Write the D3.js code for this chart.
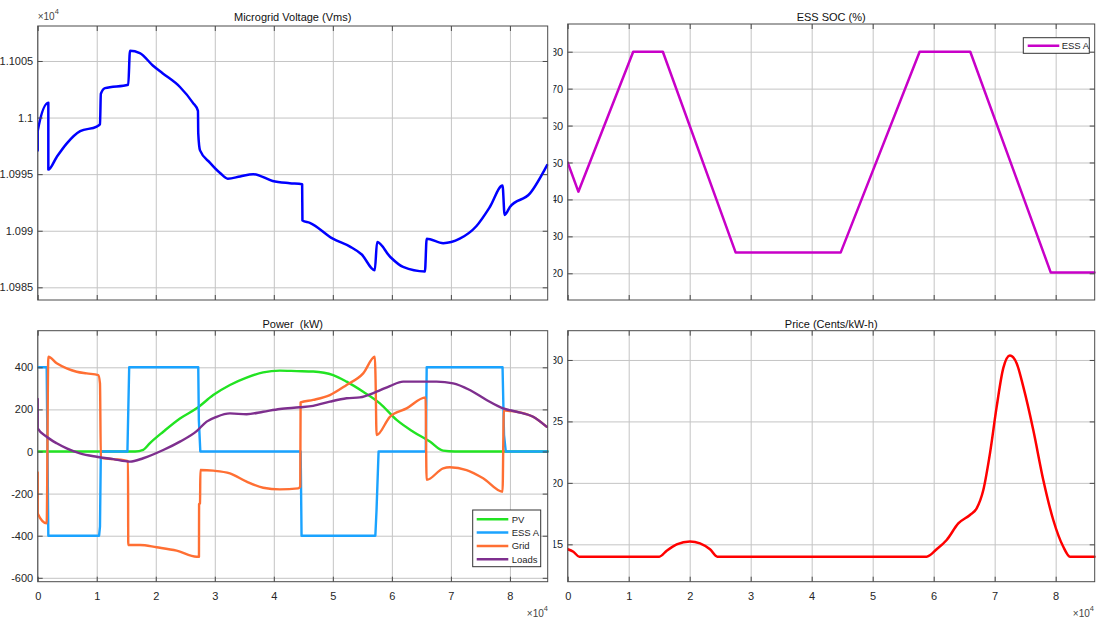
<!DOCTYPE html>
<html><head><meta charset="utf-8">
<script src="https://cdn.jsdelivr.net/npm/d3@7"></script>
<style>
html,body{margin:0;padding:0;background:#fff;}
svg{display:block;font-family:"Liberation Sans",Arial,Helvetica,sans-serif;}
</style></head><body>
<svg id="chart" width="1097" height="619"></svg>
<script>
// ---------------- data (time in seconds) ----------------
const voltageT = [0,0,1800,1800,3200,4900,7200,10000,10550,10700,11400,15340,15630,17300,19500,21200,24100,26300,27150,27200,27500,29200,30900,32200,34300,36500,39800,42700,44800,44850,46100,50000,52900,54900,57100,57500,59700,61900,65600,65900,68700,71500,74300,76600,78750,79100,80000,83400,86300];
const voltageV = [10997.1,10998.8,11001.3,10995.4,10996.5,10997.7,10998.8,10999.2,10999.4,11002.1,11002.6,11002.9,11005.9,11005.7,11004.6,11003.9,11002.7,11001.3,11000.6,10998.6,10997.1,10996.0,10995.1,10994.6,10994.8,10995.0,10994.4,10994.2,10994.1,10990.9,10990.7,10989.3,10988.6,10987.9,10986.5,10989.0,10987.7,10986.8,10986.4,10989.3,10988.9,10989.3,10990.4,10992.1,10994.0,10991.4,10992.1,10993.3,10995.8];

const socT = [0,1750,10740,15600,27540,44750,57700,66000,79200,86400];
const socV = [50,42.1,80,80,25.6,25.6,80,80,20.2,20.2];

const pvT = [0,16500,17880,19020,21270,24100,26930,29740,32570,35390,38200,41030,43860,46670,50060,52330,55140,57970,60800,63610,66440,68690,70700,86400];
const pvV = [0,0,8,40,94,157,205,268,316,351,376,384,382,380,363,332,284,229,150,94,47,4,0,0];

const essT = [0,1520,1800,10400,10550,10700,15200,15500,27200,27300,27550,44550,44700,57200,57400,57750,65750,65900,78750,79000,79300,86400];
const essV = [400,400,-400,-400,-357,0,0,400,400,150,0,0,-400,-400,-280,0,0,400,400,78,0,0];

const gridT = [0,0,1520,1800,3220,4910,6600,8300,10260,10550,10700,12800,15300,15340,17330,20150,23540,26930,27320,27340,27500,27560,29740,32570,35390,38200,41030,44140,44480,44540,46670,49500,52330,55140,57120,57240,57410,59660,62490,65710,65880,68690,69820,72650,75460,78750,78970,79300,81120,83930,86200];
const gridV = [-100,-295,-341,450,419,395,379,371,363,324,-30,-36,-46,-444,-444,-455,-471,-500,-500,-250,-246,-88,-91,-104,-143,-172,-180,-175,-167,233,245,268,316,371,450,340,78,165,205,257,-135,-80,-75,-88,-127,-191,197,195,189,165,118];

const loadsT = [0,0,1520,3220,4910,7160,9990,12800,15630,17880,21270,24100,26930,28620,30310,32570,35390,38200,41030,44420,46670,49500,52330,54570,57410,59660,61910,64740,67570,70380,73210,76040,78850,81120,83930,86200];
const loadsV = [250,110,70,39,15,-9,-25,-36,-48,-32,7,47,97,142,165,181,177,189,202,210,217,237,253,257,284,311,332,332,332,324,292,245,205,189,165,118];

const priceT = [0,930,1900,15020,16230,17870,20050,21690,23330,24530,58850,60490,62130,64040,65950,67050,68140,69230,70330,71410,72500,73600,74690,76330,77970,79610,81250,82340,86400];
const priceV = [14.6,14.4,14.0,14.0,14.48,15.0,15.24,15.08,14.6,14.0,14.0,14.6,15.35,16.7,17.39,17.93,19.42,22.4,26.2,29.33,30.36,29.74,27.83,24.3,20.24,16.98,14.8,14.0,14.0];

const xTicks = [0,10000,20000,30000,40000,50000,60000,70000,80000];
const voltageTicks = [10985,10990,10995,11000,11005];
const socTicks = [20,30,40,50,60,70,80];
const powerTicks = [-600,-400,-200,0,200,400];
const priceTicks = [15,20,25,30];
const powerNames = ["PV","ESS A","Grid","Loads"];
const socNames = ["ESS A"];

// ---------------- drawing ----------------
const svg = d3.select("#chart");
const TEXT = "#262626", AXIS = "#4a4a4a", GRIDC = "#c4c4c4";
let clipId = 0;

function panel(cfg) {
  const x = d3.scaleLinear().domain([0, 86400]).range([cfg.x0, cfg.x1]);
  const y = d3.scaleLinear().domain(cfg.yDomain).range([cfg.y1, cfg.y0]);
  const g = svg.append("g");
  const w = cfg.x1 - cfg.x0, h = cfg.y1 - cfg.y0;

  // grid lines
  const gx = g.append("g").attr("transform", `translate(0,${cfg.y1})`)
    .call(d3.axisBottom(x).tickValues(xTicks).tickSize(-h).tickFormat(""));
  const gy = g.append("g").attr("transform", `translate(${cfg.x0},0)`)
    .call(d3.axisLeft(y).tickValues(cfg.yTicks).tickSize(-w).tickFormat(""));
  [gx, gy].forEach(s => { s.select(".domain").remove(); s.selectAll("line").attr("stroke", GRIDC).attr("stroke-width", 1); });

  // series
  const cid = "clip" + (clipId++);
  g.append("clipPath").attr("id", cid).append("rect")
    .attr("x", cfg.x0).attr("y", cfg.y0 - 2).attr("width", w + 1).attr("height", h + 4);
  const lg = g.append("g").attr("clip-path", `url(#${cid})`);
  cfg.series.forEach(s => {
    const line = d3.line().x(d => x(d[0])).y(d => y(d[1])).curve(s.curve || d3.curveLinear);
    lg.append("path").datum(d3.zip(s.t, s.v)).attr("d", line)
      .attr("fill", "none").attr("stroke", s.color).attr("stroke-width", s.width || 2.4)
      .attr("stroke-linejoin", "round").attr("stroke-linecap", "round");
  });

  // box
  g.append("rect").attr("x", cfg.x0).attr("y", cfg.y0).attr("width", w).attr("height", h)
    .attr("fill", "none").attr("stroke", AXIS).attr("stroke-width", 1);

  // inward ticks on top and right
  const tickStyle = s => { s.select(".domain").remove(); s.selectAll("line").attr("stroke", AXIS); s.selectAll("text").remove(); };
  g.append("g").attr("transform", `translate(0,${cfg.y0})`).call(d3.axisTop(x).tickValues(xTicks).tickSize(-5)).call(tickStyle);
  g.append("g").attr("transform", `translate(${cfg.x1},0)`).call(d3.axisRight(y).tickValues(cfg.yTicks).tickSize(-5)).call(tickStyle);

  // bottom axis
  const bx = g.append("g").attr("transform", `translate(0,${cfg.y1})`)
    .call(d3.axisBottom(x).tickValues(xTicks).tickSize(-5).tickPadding(11).tickFormat(d => String(d / 1e4)));
  bx.select(".domain").remove();
  bx.selectAll("line").attr("stroke", AXIS);
  bx.attr("font-family", null);
  if (cfg.xLabels) {
    bx.selectAll("text").attr("fill", TEXT).attr("font-size", 11);
  } else {
    bx.selectAll("text").remove();
  }

  // left axis (labels clipped by the neighbouring panel, as in the screenshot)
  const lcid = "lclip" + (clipId++);
  svg.append("clipPath").attr("id", lcid).append("rect")
    .attr("x", cfg.labelClip).attr("y", 0).attr("width", 1097).attr("height", 619);
  const ly = g.append("g").attr("clip-path", `url(#${lcid})`).append("g")
    .attr("transform", `translate(${cfg.x0},0)`)
    .call(d3.axisLeft(y).tickValues(cfg.yTicks).tickSize(-5).tickPadding(4.5).tickFormat(cfg.yFmt));
  ly.select(".domain").remove();
  ly.attr("font-family", null);
  ly.selectAll("line").attr("stroke", AXIS);
  ly.selectAll("text").attr("fill", TEXT).attr("font-size", 11);

  // title
  g.append("text").attr("x", (cfg.x0 + cfg.x1) / 2).attr("y", cfg.titleY)
    .attr("text-anchor", "middle").attr("font-size", 11).attr("fill", "#111")
    .style("white-space", "pre").text(cfg.title);

  return { x, y, g };
}

// exponent label helper
function expLabel(xp, yp, anchor) {
  const t = svg.append("text").attr("x", xp).attr("y", yp).attr("text-anchor", anchor)
    .attr("font-size", 10).attr("fill", "#444");
  t.append("tspan").text("\u00d710");
  t.append("tspan").attr("dy", -6).attr("font-size", 7.5).text("4");
}

// Microgrid voltage
panel({
  x0: 37.7, x1: 547.7, y0: 26, y1: 300,
  yDomain: [10983.88, 11008.09], yTicks: voltageTicks, yFmt: d => String(d / 1e4),
  labelClip: 0, xLabels: false, title: "Microgrid Voltage (Vms)", titleY: 20.5,
  series: [{ t: voltageT, v: voltageV, color: "#0000ff", width: 2.5, curve: d3.curveMonotoneX }]
});
expLabel(37.7, 20, "start");

// ESS SOC
panel({
  x0: 567.7, x1: 1094.7, y0: 24, y1: 300,
  yDomain: [12.77, 87.5], yTicks: socTicks, yFmt: d => String(d),
  labelClip: 553.5, xLabels: false, title: "ESS SOC (%)", titleY: 20.5,
  series: [{ t: socT, v: socV, color: "#c800c8", width: 2.5 }]
});

// Power
const powerColors = ["#22e322", "#1aa3ff", "#ff6f33", "#7e2f8e"];
panel({
  x0: 37.7, x1: 547.7, y0: 330.7, y1: 581.7,
  yDomain: [-618.5, 573.9], yTicks: powerTicks, yFmt: d => String(d),
  labelClip: 0, xLabels: true, title: "Power  (kW)", titleY: 327.5,
  series: [
    { t: pvT, v: pvV, color: powerColors[0], curve: d3.curveMonotoneX },
    { t: essT, v: essV, color: powerColors[1] },
    { t: gridT, v: gridV, color: powerColors[2], curve: d3.curveMonotoneX },
    { t: loadsT, v: loadsV, color: powerColors[3], curve: d3.curveMonotoneX }
  ]
});
expLabel(548, 617, "end");

// Price
panel({
  x0: 567.7, x1: 1094.7, y0: 330.7, y1: 581.7,
  yDomain: [11.96, 32.38], yTicks: priceTicks, yFmt: d => String(d),
  labelClip: 553.5, xLabels: true, title: "Price (Cents/kW-h)", titleY: 327.5,
  series: [{ t: priceT, v: priceV, color: "#ff0000", width: 2.5, curve: d3.curveMonotoneX }]
});
expLabel(1094, 617, "end");

// Legends
function legend(names, colors, bx, by, bw, bh, firstY, step, lineX0, lineX1, textX) {
  const lg = svg.append("g");
  lg.append("rect").attr("x", bx).attr("y", by).attr("width", bw).attr("height", bh)
    .attr("fill", "#fff").attr("stroke", "#333").attr("stroke-width", 1);
  names.forEach((n, i) => {
    const yy = firstY + i * step;
    lg.append("line").attr("x1", lineX0).attr("x2", lineX1).attr("y1", yy).attr("y2", yy)
      .attr("stroke", colors[i]).attr("stroke-width", 2.5);
    lg.append("text").attr("x", textX).attr("y", yy + 3.3).attr("font-size", 9.5)
      .attr("fill", TEXT).text(n);
  });
}
legend(powerNames, powerColors, 472.7, 510, 68, 56.7, 519.3, 13.3, 476.7, 508.3, 511.7);
legend(socNames, ["#c800c8"], 1023.3, 37.7, 66, 15.6, 45.7, 13, 1027.7, 1059.3, 1061.7);
</script>
</body></html>
